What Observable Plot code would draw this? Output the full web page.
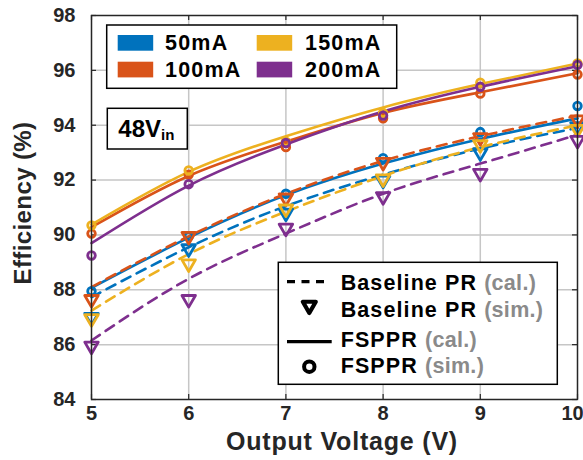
<!DOCTYPE html>
<html>
<head>
<meta charset="utf-8">
<script src="https://cdn.jsdelivr.net/npm/d3@7"></script>
<script src="https://cdn.jsdelivr.net/npm/@observablehq/plot@0.6"></script>
<style>
  html, body { margin: 0; padding: 0; background: #fff; }
  svg { display: block; }
</style>
</head>
<body>
<div id="chart"></div>
<script>
// ---- Data ----
const voltages = [5, 6, 7, 8, 9, 10];
const currents = ["50mA", "100mA", "150mA", "200mA"];
const seriesColors = ["#0072BD", "#D95319", "#EDB120", "#7E2F8E"];
const xTicks = [5, 6, 7, 8, 9, 10];
const yTicks = [84, 86, 88, 90, 92, 94, 96, 98];

// FSPPR calculated (solid lines), per current
const fspprCal = [
  [88.07, 89.9, 91.45, 92.6, 93.5, 94.25],
  [90.28, 92.15, 93.4, 94.45, 95.2, 95.9],
  [90.38, 92.3, 93.6, 94.65, 95.5, 96.25],
  [89.7, 91.8, 93.3, 94.5, 95.4, 96.15]
];
// FSPPR simulated (circles)
const fspprSim = [
  [87.95, 89.95, 91.5, 92.8, 93.75, 94.7],
  [90.05, 92.2, 93.2, 94.25, 95.15, 95.85],
  [90.35, 92.35, 93.4, 94.45, 95.55, 96.25],
  [89.25, 91.85, 93.35, 94.35, 95.4, 96.2]
];
// Baseline PR calculated (dashed lines)
const baseCal = [
  [87.73, 89.55, 91.05, 92.2, 93.15, 93.9],
  [88.1, 89.95, 91.5, 92.7, 93.6, 94.35],
  [87.24, 89.3, 90.85, 92.15, 93.2, 94.0],
  [86.15, 88.4, 90.05, 91.5, 92.6, 93.65]
];
// Baseline PR simulated (triangles)
const baseSim = [
  [87.0, 89.5, 90.8, 92.0, 93.0, 93.95],
  [87.65, 89.95, 91.35, 92.65, 93.55, 94.2],
  [86.95, 88.95, 90.95, 92.05, 93.3, 93.85],
  [85.95, 87.65, 90.25, 91.4, 92.25, 93.45]
];

// ---- Tidy tables ----
function tidy(arr) {
  const out = [];
  arr.forEach((vals, i) => vals.forEach((v, j) => out.push({current: currents[i], v: voltages[j], eff: v})));
  return out;
}
const fsCalT = tidy(fspprCal), fsSimT = tidy(fspprSim), blCalT = tidy(baseCal), blSimT = tidy(baseSim);

const FONT = "'Liberation Sans', Arial, Helvetica, sans-serif";
const ink = "#262626";
const gridColor = "#c6c6c6";
const plotH = 460 - 15 - 61;
const plotW = 583 - 91 - 6;
const xLast = xTicks[xTicks.length - 1];

const chart = Plot.plot({
  width: 583,
  height: 460,
  marginLeft: 91,
  marginRight: 6,
  marginTop: 15,
  marginBottom: 61,
  style: {fontFamily: FONT, fontWeight: "bold", background: "#fff", overflow: "visible"},
  x: {domain: [5, 10]},
  y: {domain: [84, 98]},
  color: {domain: currents, range: seriesColors},
  marks: [
    Plot.gridX(xTicks, {stroke: gridColor, strokeOpacity: 1, strokeWidth: 1.5}),
    Plot.gridY(yTicks, {stroke: gridColor, strokeOpacity: 1, strokeWidth: 1.5}),
    Plot.axisX(xTicks.filter(d => d !== xLast), {tickSize: 0, tickPadding: 6, fontSize: 20, fill: ink, label: null, tickFormat: d => String(d)}),
    Plot.axisX([xLast], {tickSize: 0, tickPadding: 6, fontSize: 20, fill: ink, label: null, dx: -5, tickFormat: d => String(d)}),
    Plot.axisY(yTicks, {tickSize: 0, tickPadding: 16, fontSize: 20, fill: ink, label: null, tickFormat: d => String(d)}),
    // inner ticks (MATLAB style)
    Plot.ruleX(xTicks, {stroke: ink, strokeWidth: 1.2, insetTop: plotH - 5}),
    Plot.ruleX(xTicks, {stroke: ink, strokeWidth: 1.2, insetBottom: plotH - 5}),
    Plot.ruleY(yTicks, {stroke: ink, strokeWidth: 1.2, insetRight: plotW - 5}),
    Plot.ruleY(yTicks, {stroke: ink, strokeWidth: 1.2, insetLeft: plotW - 5}),
    // solid FSPPR cal lines
    Plot.line(fsCalT, {x: "v", y: "eff", z: "current", stroke: "current", strokeWidth: 2.6, curve: "natural"}),
    // dashed baseline cal lines
    Plot.line(blCalT, {x: "v", y: "eff", z: "current", stroke: "current", strokeWidth: 2.6, strokeDasharray: "10,7", curve: "natural"}),
    // circles
    Plot.dot(fsSimT, {x: "v", y: "eff", stroke: "current", r: 3.8, strokeWidth: 2.8, fill: "none"}),
    // inverted triangles
    Plot.dot(blSimT, {x: "v", y: "eff", stroke: "current", symbol: "triangle", rotate: 180, r: 5, strokeWidth: 2.8, fill: "none", strokeLinejoin: "round"}),
    Plot.frame({stroke: ink, strokeWidth: 1.4})
  ]
});

document.getElementById("chart").appendChild(chart);

const svg = d3.select(chart);

// Axis titles
svg.append("text")
  .attr("x", 342).attr("y", 450)
  .attr("text-anchor", "middle")
  .attr("font-family", FONT).attr("font-weight", "bold").attr("font-size", 25)
  .attr("letter-spacing", 0.8)
  .attr("fill", ink)
  .text("Output Voltage (V)");
svg.append("text")
  .attr("transform", "translate(31,203) rotate(-90)")
  .attr("text-anchor", "middle")
  .attr("font-family", FONT).attr("font-weight", "bold").attr("font-size", 24)
  .attr("letter-spacing", 0.4)
  .attr("fill", ink)
  .text("Efficiency (%)");

// Legend 1: currents
const lg1 = svg.append("g").attr("text-anchor", "start");
lg1.append("rect").attr("x", 106.7).attr("y", 25).attr("width", 290).attr("height", 63.3)
  .attr("fill", "#fff").attr("stroke", "#000").attr("stroke-width", 1.5);
const lg1pos = [
  {sx: 117.7, tx: 165, sy: 35, ty: 50},
  {sx: 117.7, tx: 165, sy: 61.7, ty: 77},
  {sx: 256.7, tx: 305, sy: 35, ty: 50},
  {sx: 256.7, tx: 305, sy: 61.7, ty: 77}
];
currents.forEach((c, i) => {
  const p = lg1pos[i];
  lg1.append("rect").attr("x", p.sx).attr("y", p.sy).attr("width", 35.5).attr("height", 15.7).attr("fill", seriesColors[i]);
  lg1.append("text").attr("x", p.tx).attr("y", p.ty).attr("text-anchor", "start")
    .attr("font-family", FONT).attr("font-weight", "bold").attr("font-size", 21.5)
    .attr("letter-spacing", 1.2).attr("fill", "#000").text(c);
});

// 48Vin label
const vb = svg.append("g").attr("text-anchor", "start");
vb.append("rect").attr("x", 107.3).attr("y", 108.3).attr("width", 80).attr("height", 40.7)
  .attr("fill", "#fff").attr("stroke", "#000").attr("stroke-width", 1.5);
const vt = vb.append("text").attr("x", 118.3).attr("y", 136.7).attr("text-anchor", "start")
  .attr("font-family", FONT).attr("font-weight", "bold").attr("font-size", 24).attr("fill", "#000");
vt.append("tspan").text("48V");
vt.append("tspan").attr("font-size", 15).attr("dy", 3.5).text("in");

// Legend 2: line styles
const lg2 = svg.append("g").attr("text-anchor", "start");
lg2.append("rect").attr("x", 278.3).attr("y", 262.3).attr("width", 279).attr("height", 122)
  .attr("fill", "#fff").attr("stroke", "#000").attr("stroke-width", 1.5);
lg2.append("line").attr("x1", 287).attr("x2", 325).attr("y1", 281.7).attr("y2", 281.7)
  .attr("stroke", "#000").attr("stroke-width", 3.2).attr("stroke-dasharray", "8,6.5");
lg2.append("path").attr("d", d3.symbol(d3.symbolTriangle2, 120)())
  .attr("transform", "translate(309.3,305.5) rotate(180)")
  .attr("fill", "none").attr("stroke", "#000").attr("stroke-width", 4.2).attr("stroke-linejoin", "round");
lg2.append("line").attr("x1", 287).attr("x2", 331.7).attr("y1", 341.7).attr("y2", 341.7)
  .attr("stroke", "#000").attr("stroke-width", 3.2);
lg2.append("circle").attr("cx", 309.3).attr("cy", 366.7).attr("r", 5.2)
  .attr("fill", "none").attr("stroke", "#000").attr("stroke-width", 4);
const rows = [
  {main: "Baseline PR", sub: "(cal.)", y: 290},
  {main: "Baseline PR", sub: "(sim.)", y: 317.3},
  {main: "FSPPR", sub: "(cal.)", y: 346.5},
  {main: "FSPPR", sub: "(sim.)", y: 373}
];
rows.forEach(r => {
  const t = lg2.append("text").attr("x", 340.7).attr("y", r.y).attr("text-anchor", "start")
    .attr("font-family", FONT).attr("font-weight", "bold").attr("font-size", 21.5)
    .attr("letter-spacing", 1.1);
  t.append("tspan").attr("fill", "#000").text(r.main + " ");
  t.append("tspan").attr("fill", "#8a8a8a").attr("letter-spacing", 0.3).text(r.sub);
});
</script>
</body>
</html>
